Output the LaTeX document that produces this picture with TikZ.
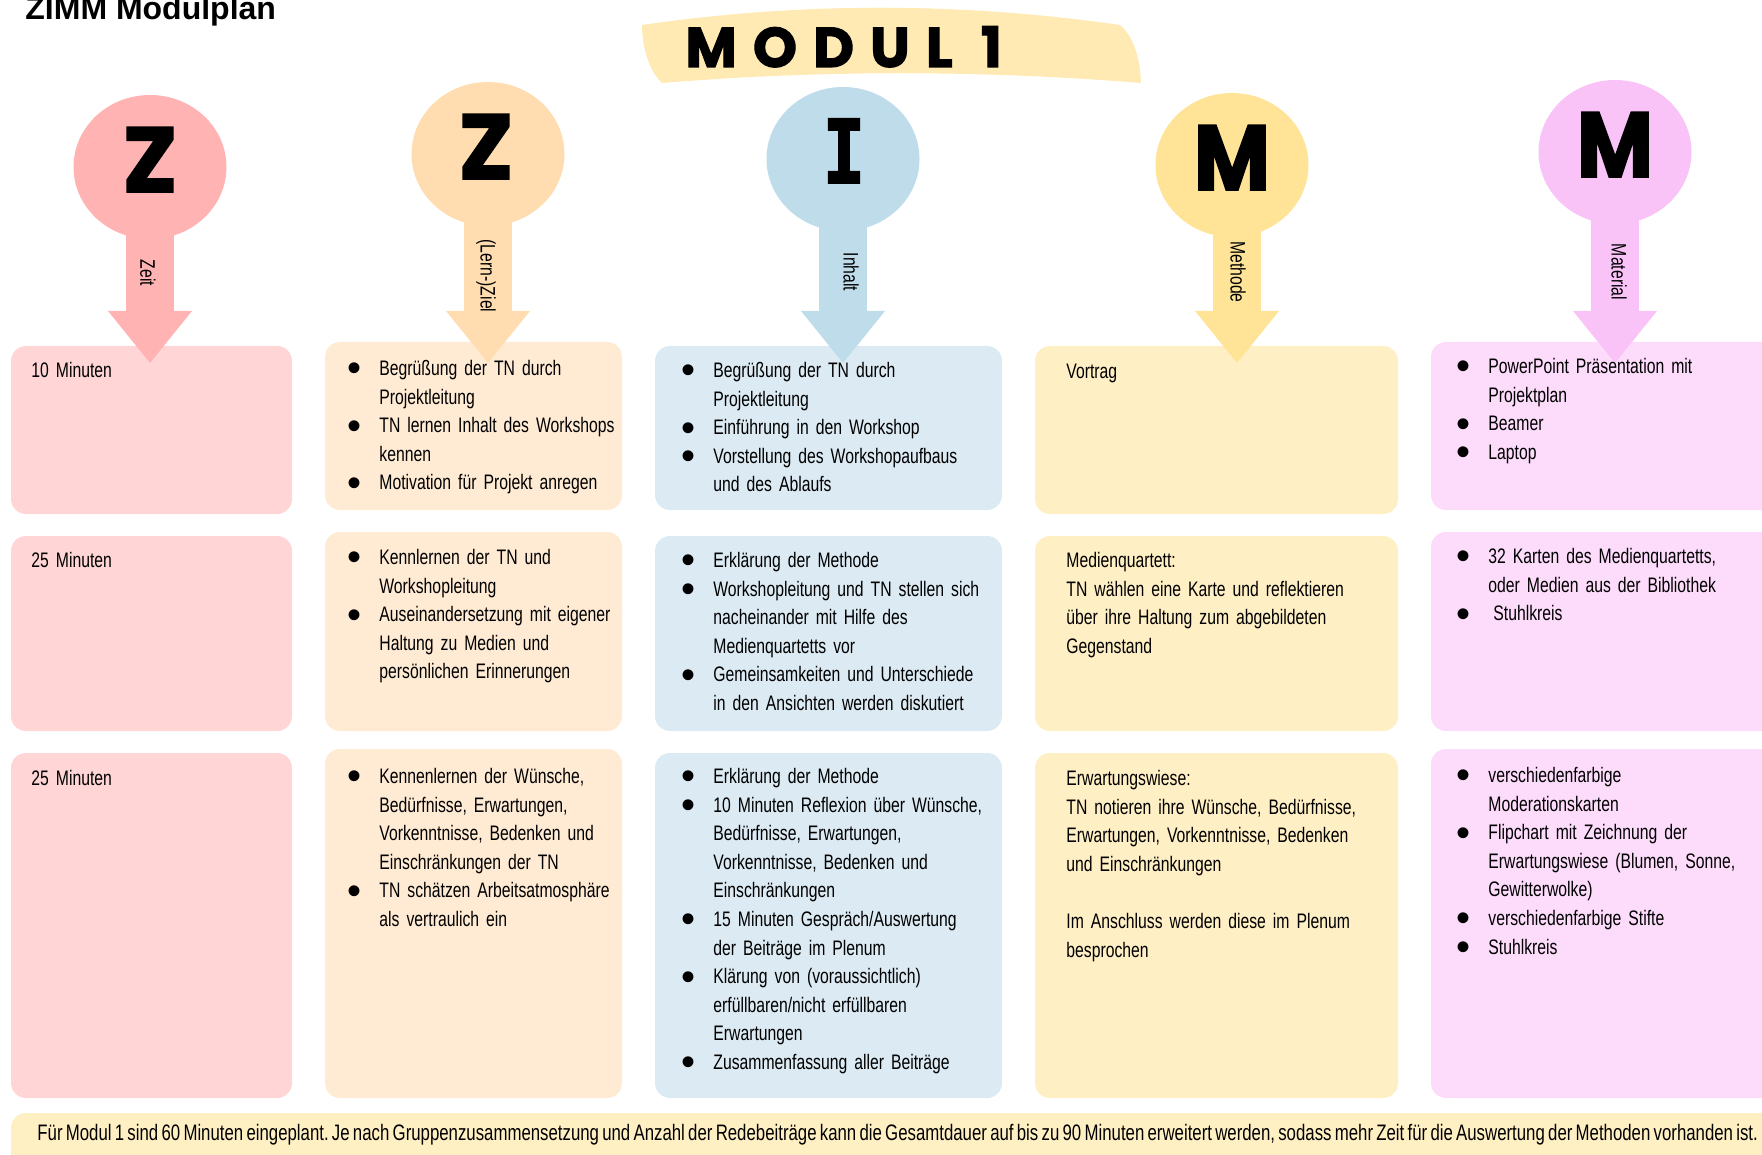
\documentclass[tikz,border=0pt]{standalone}
\usepackage{fontspec}
\setmainfont{Liberation Sans}
\newfontfamily\bodyfont{Liberation Sans}[FakeStretch=0.75, WordSpace=0.7]
\newfontfamily\dotfont{Liberation Sans}
\newfontfamily\letterfont{Poppins}[BoldFeatures={FakeBold=2}]
\newfontfamily\slabfont{DejaVu Sans Mono}[BoldFeatures={FakeBold=2}]
\usetikzlibrary{shapes.geometric}
\setlength{\parindent}{0pt}

\definecolor{zeitpin}{HTML}{FFB3B3}
\definecolor{zeitbox}{HTML}{FFD5D6}
\definecolor{zielpin}{HTML}{FFDDB0}
\definecolor{zielbox}{HTML}{FFEBD4}
\definecolor{inhaltpin}{HTML}{BFDCEA}
\definecolor{inhaltbox}{HTML}{DCEAF3}
\definecolor{methodepin}{HTML}{FFE497}
\definecolor{methodebox}{HTML}{FFEFC4}
\definecolor{materialpin}{HTML}{FAC3F8}
\definecolor{materialbox}{HTML}{FDDCFB}
\definecolor{banner}{HTML}{FFEAB4}
\definecolor{fussbox}{HTML}{FFF0C4}

% one bullet line, later lines hang under the text
\newif\iffirstbul
\newcommand{\bul}{\iffirstbul\firstbulfalse\else\par\fi\noindent\hangindent=17.5pt\hangafter=1\strut\makebox[17.5pt][l]{\makebox[10pt][c]{\raisebox{-3.25pt}[0pt][0pt]{\dotfont\fontsize{20pt}{20pt}\selectfont\textbullet}}}}
\newcommand{\closebul}{\par}

\begin{document}
\begin{tikzpicture}[x=0.5pt, y=-0.5pt,
  pin/.style={ellipse, minimum width=76.5pt, minimum height=72pt, inner sep=0pt},
  bigletter/.style={anchor=base, inner sep=0pt, font=\letterfont\bfseries\fontsize{46pt}{46pt}\selectfont},
  pinlabel/.style={rotate=-90, inner sep=0pt, font=\bodyfont\fontsize{10.5pt}{12pt}\selectfont},
  txt/.style={anchor=north west, inner sep=0pt, text width=175pt, font=\bodyfont\fontsize{10.5pt}{14.3pt}\selectfont,
    execute at begin node={\firstbultrue}},
  boxr/.style={rounded corners=7.5pt}]
\useasboundingbox (0,0) rectangle (1762,1155);
\clip (0,0) rectangle (1762,1155);

% Title and banner
\node[anchor=base west, inner sep=0pt, font=\bfseries\fontsize{16pt}{16pt}\selectfont] (titel) at (25,20) {ZIMM Modulplan};
\fill[banner] (642,25) .. controls (800,2) and (960,2) .. (1120,25) .. controls (1132,35) and (1140,55) .. (1141,83) .. controls (980,70) and (820,70) .. (662,83) .. controls (648,70) and (642,45) .. (642,25) -- cycle;
\node[anchor=base west, inner sep=0pt, font=\letterfont\bfseries\fontsize{28pt}{28pt}\selectfont\addfontfeature{LetterSpace=29}] (modul) at (685,67) {MODUL 1};

% Boxes, row by row
\fill[zeitbox, boxr] (11,346) rectangle (292,514);
\fill[zielbox, boxr] (325,342) rectangle (622,510);
\fill[inhaltbox, boxr] (655,346) rectangle (1002,510);
\fill[methodebox, boxr] (1035,346) rectangle (1398,514);
\fill[materialbox, boxr] (1431,342) rectangle (1800,510);
\fill[zeitbox, boxr] (11,536) rectangle (292,731);
\fill[zielbox, boxr] (325,532) rectangle (622,731);
\fill[inhaltbox, boxr] (655,536) rectangle (1002,731);
\fill[methodebox, boxr] (1035,536) rectangle (1398,731);
\fill[materialbox, boxr] (1431,532) rectangle (1800,731);
\fill[zeitbox, boxr] (11,753) rectangle (292,1098);
\fill[zielbox, boxr] (325,749) rectangle (622,1098);
\fill[inhaltbox, boxr] (655,753) rectangle (1002,1098);
\fill[methodebox, boxr] (1035,753) rectangle (1398,1098);
\fill[materialbox, boxr] (1431,749) rectangle (1800,1098);
\fill[fussbox, boxr] (11,1113) rectangle (1800,1190);

% Pins: circle, stem and head
\node[pin, fill=zeitpin] (zeitc) at (150,167) {};
\fill[zeitpin] (126,200) rectangle (174,312);
\fill[zeitpin] (108,311) -- (192,311) -- (150,363) -- cycle;
\node[bigletter] (zeitl) at (150,192) {Z};
\node[pinlabel] (zeitt) at (148,273) {Zeit};

\node[pin, fill=zielpin] (zielc) at (488,154) {};
\fill[zielpin] (464,200) rectangle (512,312);
\fill[zielpin] (446,311) -- (530,311) -- (488,363) -- cycle;
\node[bigletter] (ziell) at (486,179) {Z};
\node[pinlabel] (zielt) at (486,276) {(Lern-)Ziel};

\node[pin, fill=inhaltpin] (inhaltc) at (843,159) {};
\fill[inhaltpin] (819,200) rectangle (867,312);
\fill[inhaltpin] (801,311) -- (885,311) -- (843,363) -- cycle;
\node[bigletter, font=\slabfont\bfseries\fontsize{44pt}{44pt}\selectfont\addfontfeature{FakeStretch=0.8}] (inhaltl) at (844,183) {I};
\node[pinlabel] (inhaltt) at (851,272) {Inhalt};

\node[pin, fill=methodepin] (methodec) at (1232,165) {};
\fill[methodepin] (1213,200) rectangle (1261,312);
\fill[methodepin] (1195,311) -- (1279,311) -- (1237,363) -- cycle;
\node[bigletter, font=\letterfont\bfseries\fontsize{46pt}{46pt}\selectfont\addfontfeature{FakeStretch=0.9}] (methodel) at (1232,190) {M};
\node[pinlabel] (methodet) at (1238,272) {Methode};

\node[pin, fill=materialpin] (materialc) at (1615,152) {};
\fill[materialpin] (1591,200) rectangle (1639,312);
\fill[materialpin] (1573,311) -- (1657,311) -- (1615,363) -- cycle;
\node[bigletter, font=\letterfont\bfseries\fontsize{46pt}{46pt}\selectfont\addfontfeature{FakeStretch=0.9}] (materiall) at (1615,177) {M};
\node[pinlabel] (materialt) at (1619,272) {Material};

% Zeit
\node[txt] (zeit1) at (31,357) {\strut 10 Minuten};
\node[txt] (zeit2) at (31,547) {\strut 25 Minuten};
\node[txt] (zeit3) at (31,765) {\strut 25 Minuten};

% (Lern-)Ziel
\node[txt] (ziel1) at (344,355) {\bul Begrüßung der TN durch\newline Projektleitung
  \bul TN lernen Inhalt des Workshops\newline kennen
  \bul Motivation für Projekt anregen\closebul};
\node[txt] (ziel2) at (344,544) {\bul Kennlernen der TN und\newline Workshopleitung
  \bul Auseinandersetzung mit eigener\newline Haltung zu Medien und\newline persönlichen Erinnerungen\closebul};
\node[txt] (ziel3) at (344,763) {\bul Kennenlernen der Wünsche,\newline Bedürfnisse, Erwartungen,\newline Vorkenntnisse, Bedenken und\newline Einschränkungen der TN
  \bul TN schätzen Arbeitsatmosphäre\newline als vertraulich ein\closebul};

% Inhalt
\node[txt] (inhalt1) at (678,357) {\bul Begrüßung der TN durch\newline Projektleitung
  \bul Einführung in den Workshop
  \bul Vorstellung des Workshopaufbaus\newline und des Ablaufs\closebul};
\node[txt] (inhalt2) at (678,547) {\bul Erklärung der Methode
  \bul Workshopleitung und TN stellen sich\newline nacheinander mit Hilfe des\newline Medienquartetts vor
  \bul Gemeinsamkeiten und Unterschiede\newline in den Ansichten werden diskutiert\closebul};
\node[txt] (inhalt3) at (678,763) {\bul Erklärung der Methode
  \bul 10 Minuten Reflexion über Wünsche,\newline Bedürfnisse, Erwartungen,\newline Vorkenntnisse, Bedenken und\newline Einschränkungen
  \bul 15 Minuten Gespräch/Auswertung\newline der Beiträge im Plenum
  \bul Klärung von (voraussichtlich)\newline erfüllbaren/nicht erfüllbaren\newline Erwartungen
  \bul Zusammenfassung aller Beiträge\closebul};

% Methode
\node[txt] (methode1) at (1066,358) {\strut Vortrag};
\node[txt] (methode2) at (1066,547) {\strut Medienquartett:\\ TN wählen eine Karte und reflektieren\\ über ihre Haltung zum abgebildeten\\ Gegenstand};
\node[txt] (methode3) at (1066,765) {\strut Erwartungswiese:\\ TN notieren ihre Wünsche, Bedürfnisse,\\ Erwartungen, Vorkenntnisse, Bedenken\\ und Einschränkungen\\[14.3pt] Im Anschluss werden diese im Plenum\\ besprochen};

% Material
\node[txt] (material1) at (1453,353) {\bul PowerPoint Präsentation mit\newline Projektplan
  \bul Beamer
  \bul Laptop\closebul};
\node[txt] (material2) at (1453,543) {\bul 32 Karten des Medienquartetts,\newline oder Medien aus der Bibliothek
  \bul \hspace{2.5pt}Stuhlkreis\closebul};
\node[txt] (material3) at (1453,762) {\bul verschiedenfarbige\newline Moderationskarten
  \bul Flipchart mit Zeichnung der\newline Erwartungswiese (Blumen, Sonne,\newline Gewitterwolke)
  \bul verschiedenfarbige Stifte
  \bul Stuhlkreis\closebul};

% Footer
\node[anchor=base west, inner sep=0pt, font=\bodyfont\fontsize{11.2pt}{14.3pt}\selectfont\frenchspacing] (hinweis) at (37,1140) {Für Modul 1 sind 60 Minuten eingeplant. Je nach Gruppenzusammensetzung und Anzahl der Redebeiträge kann die Gesamtdauer auf bis zu 90 Minuten erweitert werden, sodass mehr Zeit für die Auswertung der Methoden vorhanden ist.};
\end{tikzpicture}
\end{document}
